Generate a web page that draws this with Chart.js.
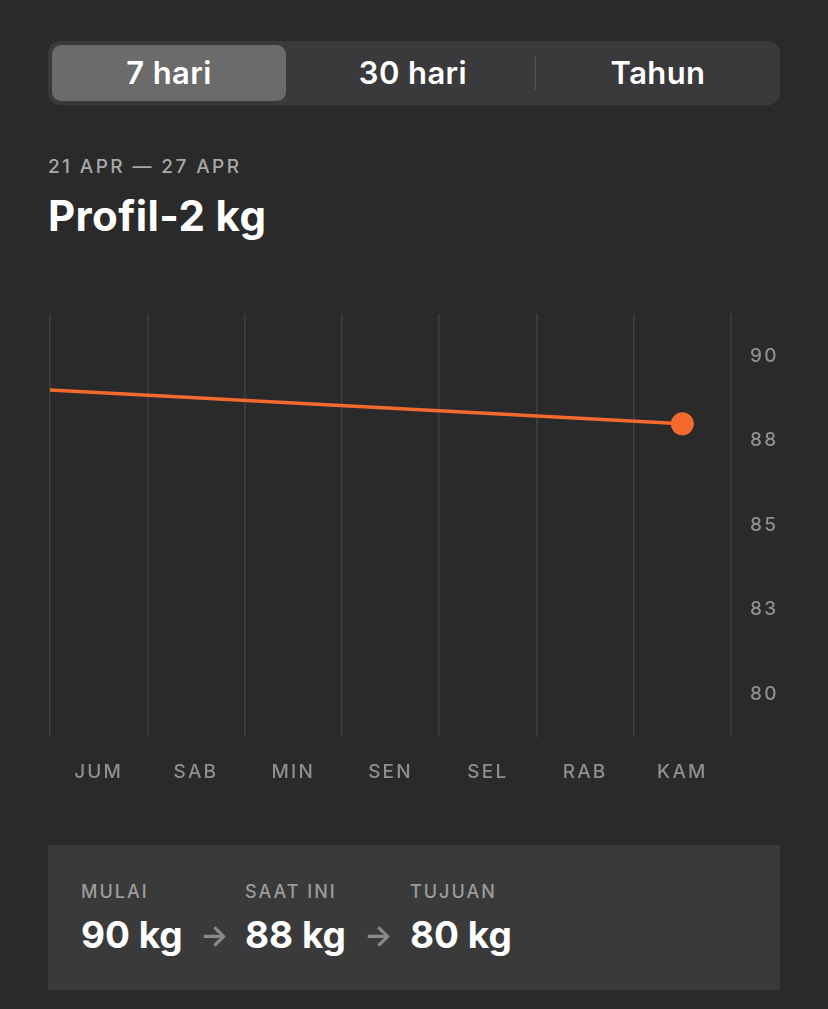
<!DOCTYPE html>
<html>
<head>
<meta charset="utf-8">
<script src="https://cdn.jsdelivr.net/npm/chart.js@4.4.1/dist/chart.umd.min.js"></script>
<style>
  html, body { margin: 0; padding: 0; background: #2a2a2a; width: 828px; height: 1009px; overflow: hidden; font-family: Inter, "Noto Sans", sans-serif; }
  .seg { position: absolute; left: 48px; top: 41px; width: 732px; height: 64px; background: #3a3a3c; border-radius: 12px; }
  .seg .sel { position: absolute; left: 4px; top: 4px; width: 234px; height: 56px; background: #6b6b6b; border-radius: 9px; }
  .seg .tab { position: absolute; top: 0; height: 64px; line-height: 64px; text-align: center; color: #fff; font-size: 31px; font-weight: 600; letter-spacing: 0.4px; }
  .seg .div { position: absolute; left: 487px; top: 16px; width: 1px; height: 33px; background: #555; }
  .range { position: absolute; left: 48px; top: 155px; color: #a8a8a8; font-size: 19px; font-weight: 500; letter-spacing: 2.4px; }
  .title { position: absolute; left: 48px; top: 190px; color: #fff; font-size: 42px; font-weight: 700; letter-spacing: 0.4px; }
  #wrap { position: absolute; left: 0; top: 283px; width: 828px; height: 517px; }
  .card { position: absolute; left: 48px; top: 845px; width: 732px; height: 145px; background: #3a3a3a; }
  .col { position: absolute; top: 36px; }
  .col .lbl { color: #9c9c9c; font-size: 18px; font-weight: 500; letter-spacing: 2px; }
  .col .val { color: #fff; font-size: 37px; font-weight: 700; margin-top: 10px; letter-spacing: 0px; }
  .arrow { position: absolute; top: 72px; color: #8a8a8a; font-size: 30px; font-weight: 600; }
</style>
</head>
<body>
<div class="seg">
  <div class="sel"></div>
  <div class="tab" style="left:4px;width:234px;">7 hari</div>
  <div class="tab" style="left:243px;width:244px;">30 hari</div>
  <div class="div"></div>
  <div class="tab" style="left:488px;width:244px;">Tahun</div>
</div>
<div class="range">21 APR — 27 APR</div>
<div class="title">Profil-2 kg</div>
<div id="wrap"><canvas id="weightchart"></canvas></div>
<div class="card">
  <div class="col" style="left:33px;"><div class="lbl">MULAI</div><div class="val">90 kg</div></div>
  <div class="arrow" style="left:152px;">→</div>
  <div class="col" style="left:197px;"><div class="lbl">SAAT INI</div><div class="val">88 kg</div></div>
  <div class="arrow" style="left:316px;">→</div>
  <div class="col" style="left:362px;"><div class="lbl">TUJUAN</div><div class="val">80 kg</div></div>
</div>
<script>
// day labels of the week shown (21 Apr .. 27 Apr)
const days = ['JUM', 'SAB', 'MIN', 'SEN', 'SEL', 'RAB', 'KAM'];
// weigh-ins, day index relative to 21 Apr (negative = before the week)
const entryDay = [-7, 6];
const entryKg = [90, 88];
const yTicks = [80, 82.5, 85, 87.5, 90];

const orange = '#f4692c';
const gridcolor = '#3f3f3f';

let points = [];
entryDay.forEach((d, i) => {
    points.push({ x: d, y: entryKg[i] });
});
const last = points.length - 1;

const letterspacing = {
    id: 'letterspacing',
    beforeDraw(chart) {
        chart.ctx.letterSpacing = '2.2px';
    }
};

const lineconfig = {
    type: 'line',
    data: {
        datasets: [
            {
                label: 'berat',
                data: points,
                borderColor: orange,
                borderWidth: 3.5,
                backgroundColor: orange,
                pointRadius: (ctx) => ctx.dataIndex === last ? 11.5 : 0,
                pointHoverRadius: (ctx) => ctx.dataIndex === last ? 11.5 : 0,
                pointBorderWidth: 0,
                tension: 0,
                clip: 0
            }
        ]
    },
    options: {
        responsive: true,
        maintainAspectRatio: false,
        animation: false,
        layout: { padding: { left: 50, top: 13, right: 0, bottom: 0 } },
        plugins: {
            legend: { display: false },
            tooltip: { enabled: false }
        },
        scales: {
            x: {
                type: 'linear',
                min: -0.5,
                max: 6.5,
                afterBuildTicks: (scale) => {
                    let t = [];
                    for (let v = -0.5; v <= 6.5; v += 0.5) t.push({ value: v });
                    scale.ticks = t;
                },
                afterFit: (scale) => { scale.height = 63; },
                grid: {
                    color: (ctx) => (ctx.tick && Math.abs(ctx.tick.value % 1) === 0.5) ? gridcolor : 'rgba(0,0,0,0)',
                    lineWidth: 1.5,
                    drawTicks: false
                },
                border: { display: false },
                ticks: {
                    autoSkip: false,
                    maxRotation: 0,
                    padding: 24,
                    color: '#8f8f8f',
                    font: { family: 'Inter', size: 19, weight: '500' },
                    callback: (v) => Number.isInteger(v) ? days[v] : ''
                }
            },
            y: {
                position: 'right',
                min: 78.73,
                max: 91.27,
                afterBuildTicks: (scale) => {
                    scale.ticks = yTicks.map(v => ({ value: v }));
                },
                afterFit: (scale) => { scale.width = 97; },
                grid: { display: false, drawTicks: false },
                border: { display: false },
                ticks: {
                    padding: 19,
                    color: '#8f8f8f',
                    font: { family: 'Inter', size: 19, weight: '500' },
                    callback: (v) => Math.round(v)
                }
            }
        }
    },
    plugins: [letterspacing]
};

new Chart(document.getElementById('weightchart'), lineconfig);
</script>
</body>
</html>
